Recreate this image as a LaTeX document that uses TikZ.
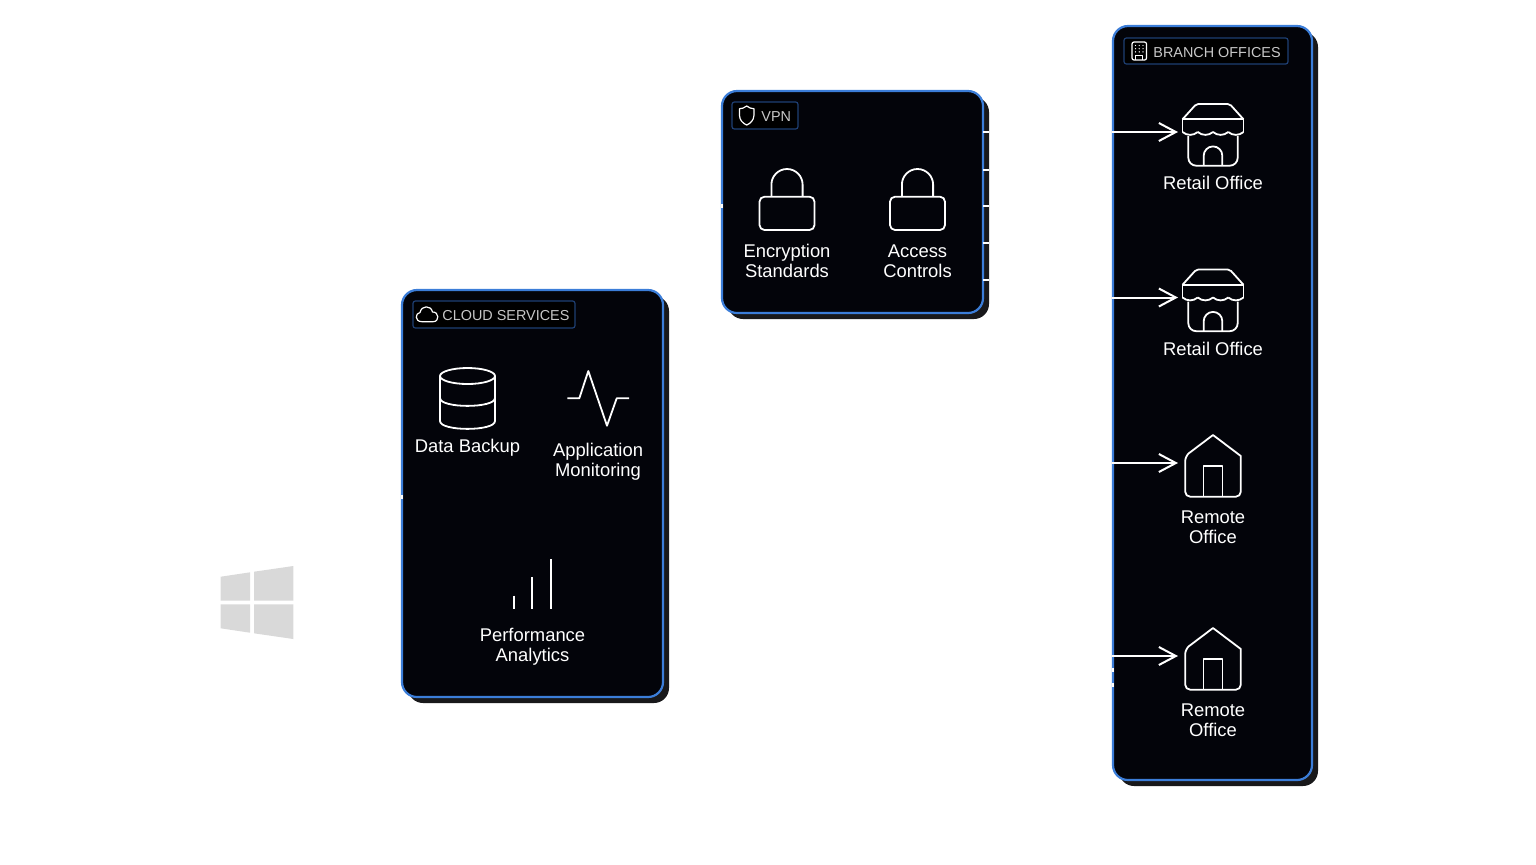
\documentclass[tikz,border=0pt]{standalone}
\usepackage{fontspec}
\setmainfont{Liberation Sans}
\usetikzlibrary{arrows.meta}

\definecolor{panelfill}{HTML}{03040A}
\definecolor{panelshadow}{HTML}{18181A}
\definecolor{panelblue}{HTML}{3B7DD8}
\definecolor{badgeblue}{HTML}{1E3F73}
\definecolor{headgrey}{HTML}{C8C8C8}
\definecolor{logogrey}{HTML}{D9D9D9}

\tikzset{
    panelbox/.style={draw=panelblue, line width=1.1pt, fill=panelfill, rounded corners=7.5pt, inner sep=0pt},
    shadowbox/.style={fill=panelshadow, rounded corners=7.5pt, inner sep=0pt},
    badgebox/.style={draw=badgeblue, line width=0.6pt, fill=black, rounded corners=1.2pt, inner sep=0pt},
    headtext/.style={text=headgrey, font=\fontsize{7.2}{9}\selectfont, inner sep=0pt, anchor=west},
    itemtext/.style={text=white, font=\fontsize{9.2}{10}\selectfont, align=center, inner sep=0pt},
    iconline/.style={draw=white, line width=0.9pt, line join=round},
    smallicon/.style={draw=white, line width=0.6pt, line join=round},
    notchline/.style={draw=white, line width=1pt},
    notchdot/.style={draw=white, line width=1.6pt},
    linkarrow/.style={draw=white, line width=1pt, -{Straight Barb[length=8.5pt, width=9pt, line width=1pt]}},
    lockicon/.pic={
        \draw[iconline, rounded corners=2.5pt] (-27.5,27.7) rectangle (27.5,61);
        \draw[iconline] (-15.6,27.7) -- (-15.6,15.6) arc[start angle=180, end angle=360, x radius=15.6, y radius=15.6] -- (15.6,27.7);
    },
    shopicon/.pic={
        \draw[iconline, rounded corners=1pt] (-30.5,15.3) -- (-16.7,0) -- (16.7,0) -- (30.5,15.3);
        \draw[iconline] (-30.5,28) -- (-30.5,15.3) -- (30.5,15.3) -- (30.5,28);
        \foreach \k in {0,...,3}
            \draw[iconline] (-30.5+15.25*\k,28) to[bend right=40] (-15.25+15.25*\k,28);
        \draw[iconline, rounded corners=4pt] (-24.7,32) -- (-24.7,61.7) -- (24.7,61.7) -- (24.7,32);
        \draw[iconline] (-9.3,61.7) -- (-9.3,51.7) arc[start angle=180, end angle=360, x radius=9.3, y radius=9.3] -- (9.3,61.7);
    },
    houseicon/.pic={
        \draw[iconline] (0,0) -- (27.8,21) [rounded corners=2.5pt] -- (27.8,61.7) -- (-27.8,61.7) -- (-27.8,21) [sharp corners] -- cycle;
        \draw[iconline] (-9.5,61.7) -- (-9.5,30.7) -- (9.5,30.7) -- (9.5,61.7);
    },
}

\begin{document}
\begin{tikzpicture}[x=0.5pt, y=-0.5pt]
    \useasboundingbox (0,0) rectangle (1536,864);

    % Windows Logo
    \fill[logogrey] (220.7,576.7) -- (250,572.3) -- (250,600.7) -- (220.7,600.7) -- cycle;
    \fill[logogrey] (254,571.7) -- (293.3,566) -- (293.3,600.7) -- (254,600.7) -- cycle;
    \fill[logogrey] (220.7,604.3) -- (250,604.3) -- (250,632.7) -- (220.7,628.3) -- cycle;
    \fill[logogrey] (254,604.3) -- (293.3,604.3) -- (293.3,639) -- (254,633.3) -- cycle;

    % Panel Shadows
    \node[shadowbox, minimum width=130.5pt, minimum height=203.5pt] (cloudshade) at (538.5,499.5) {};
    \node[shadowbox, minimum width=130.5pt, minimum height=111pt] (vpnshade) at (858.5,208) {};
    \node[shadowbox, minimum width=99.5pt, minimum height=377pt] (branchshade) at (1218.5,409) {};

    % Panels
    \node[panelbox, minimum width=130.5pt, minimum height=203.5pt] (cloud) at (532.5,493.5) {};
    \node[panelbox, minimum width=130.5pt, minimum height=111pt] (vpn) at (852.5,202) {};
    \node[panelbox, minimum width=99.5pt, minimum height=377pt] (branch) at (1212.5,403) {};

    % Panel Notches
    \foreach \y in {132.3,169.7,206,242.7,279.7}
        \draw[notchline] (983,\y) -- (988.5,\y);
    \draw[notchdot] (720.5,206) -- (722.5,206);
    \draw[notchdot] (400.5,497) -- (402.5,497);
    \draw[notchdot] (1112,670) -- (1114,670);
    \draw[notchdot] (1112,685) -- (1114,685);

    % Header Badges
    \node[badgebox, minimum width=81pt, minimum height=13.5pt] (cloudbadge) at (494,314.5) {};
    \node[badgebox, minimum width=33pt, minimum height=13.5pt] (vpnbadge) at (765,115.5) {};
    \node[badgebox, minimum width=82pt, minimum height=13pt] (branchbadge) at (1206,51) {};
    \node[headtext] (cloudhead) at (442,316) {CLOUD SERVICES};
    \node[headtext] (vpnhead) at (761,117) {VPN};
    \node[headtext] (branchhead) at (1153,53) {BRANCH OFFICES};

    % -- badge icons
    \draw[smallicon] (422,321.7) .. controls (414.5,321.7) and (415,313) .. (420,312.5) .. controls (421.5,305) and (431,305) .. (432.5,312) .. controls (439,311.5) and (440,321.7) .. (433,321.7) -- cycle;
    \draw[smallicon] (746.7,106) .. controls (744,108) and (742,108.7) .. (739.5,108.7) -- (739.5,115.5) .. controls (739.5,120) and (743,123.5) .. (746.7,125) .. controls (750.4,123.5) and (753.9,120) .. (753.9,115.5) -- (753.9,108.7) .. controls (751.4,108.7) and (749.4,108) .. (746.7,106) -- cycle;
    \draw[smallicon, rounded corners=1pt] (1132,42) rectangle (1146.5,60);
    \draw[smallicon] (1135.7,60) -- (1135.7,55.5) -- (1142.8,55.5) -- (1142.8,60);
    \foreach \x in {1135.5,1139.2,1143}
        \foreach \y in {45.5,48.7,51.9}
            \fill[white] (\x,\y) circle (0.35pt);

    % Cloud Services Items
    \draw[iconline] (467.5,376) ellipse (27.5 and 8);
    \draw[iconline] (440,376) -- (440,421) .. controls (440,431.5) and (495,431.5) .. (495,421) -- (495,376);
    \draw[iconline] (440,398) .. controls (440,408.5) and (495,408.5) .. (495,398);
    \draw[iconline] (567.3,398.3) -- (579.3,398.3) -- (588.3,371) -- (607,425.7) -- (616.7,398.3) -- (629,398.3);
    \draw[iconline] (514.3,595.7) -- (514.3,609);
    \draw[iconline] (532.3,577.3) -- (532.3,609);
    \draw[iconline] (550.7,559.3) -- (550.7,609);
    \node[itemtext] (backup) at (467.5,447.5) {Data Backup};
    \node[itemtext] (monitoring) at (598,461.5) {Application\\Monitoring};
    \node[itemtext] (analytics) at (532.5,647) {Performance\\Analytics};

    % VPN Items
    \pic at (787,169) {lockicon};
    \pic at (917.5,169) {lockicon};
    \node[itemtext] (encryption) at (787,261) {Encryption\\Standards};
    \node[itemtext] (access) at (917.5,261) {Access\\Controls};

    % Branch Office Items
    \pic at (1213,104) {shopicon};
    \pic at (1213,269.5) {shopicon};
    \pic at (1213,435) {houseicon};
    \pic at (1213,628) {houseicon};
    \node[itemtext] (retailone) at (1213,183) {Retail Office};
    \node[itemtext] (retailtwo) at (1213,348.5) {Retail Office};
    \node[itemtext] (remoteone) at (1213,527) {Remote\\Office};
    \node[itemtext] (remotetwo) at (1213,720) {Remote\\Office};

    % Arrows Into Branch Offices
    \coordinate (tipone) at (1178,132);
    \coordinate (tiptwo) at (1178,297.5);
    \coordinate (tipthree) at (1178,463);
    \coordinate (tipfour) at (1178,656);
    \draw[linkarrow] (branch.west |- tipone) -- (tipone);
    \draw[linkarrow] (branch.west |- tiptwo) -- (tiptwo);
    \draw[linkarrow] (branch.west |- tipthree) -- (tipthree);
    \draw[linkarrow] (branch.west |- tipfour) -- (tipfour);
\end{tikzpicture}
\end{document}
